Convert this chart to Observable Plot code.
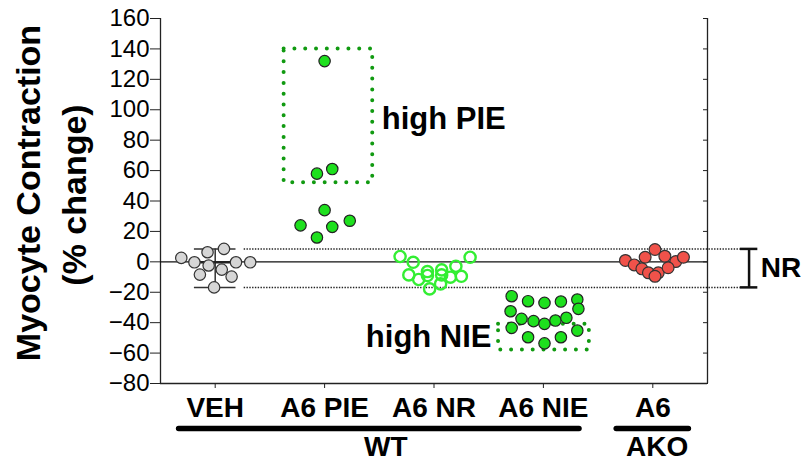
<!DOCTYPE html>
<html><head><meta charset="utf-8">
<script src="https://cdn.jsdelivr.net/npm/d3@7"></script>
<script src="https://cdn.jsdelivr.net/npm/@observablehq/plot@0.6"></script>
<style>body{margin:0;background:#fff;} #chart svg{font-family:"Liberation Sans",Arial,sans-serif;}</style>
</head><body><div id="chart"></div>
<script>
// ---- data ----
const categories = ["VEH", "A6 PIE", "A6 NR", "A6 NIE", "A6"];
const yTicks = [-80, -60, -40, -20, 0, 20, 40, 60, 80, 100, 120, 140, 160];

const vehValues = [2.6, -0.3, 6.3, 8.5, -2.4, -5.1, -0.3, -0.3, -8.4, -9.7, -16.8];
const vehJitter = [-0.31, -0.19, -0.07, 0.08, -0.06, 0.06, 0.19, 0.32, -0.14, 0.15, -0.01];

const pieValues = [132, 58, 61, 34, 24, 23, 27, 16];
const pieJitter = [0, -0.07, 0.07, 0, -0.22, 0.07, 0.23, -0.07];

const nrValues = [3.5, -0.3, 3.0, -2.9, -5.3, -6.4, -8.6, -11.6, -9.0, -8.6, -10.1, -9.5, -14.5, -17.8];
const nrJitter = [-0.31, -0.19, 0.33, 0.2, 0.07, -0.06, -0.23, -0.14, -0.06, 0.07, 0.15, 0.25, 0.06, -0.04];

const nieValues = [-22.6, -25.9, -27, -26.1, -24.8, -30.9, -32.5, -37.5, -39, -40.8, -38.6, -36.8, -43.4, -45.2, -49.6, -49.6, -53.6];
const nieJitter = [-0.29, -0.14, 0.01, 0.16, 0.31, 0.32, -0.30, -0.20, -0.09, 0.01, 0.11, 0.21, -0.29, 0.31, -0.14, 0.16, 0.01];

const akoValues = [0.9, -2.0, 3.0, 8.1, 3.7, 0.2, 3.0, -4.6, -7.2, -7.2, -3.9, -9.5];
const akoJitter = [-0.25, -0.17, -0.07, 0.02, 0.11, 0.21, 0.28, -0.10, -0.04, 0.05, 0.14, 0.02];

// highlighted regions (category index, category-unit extents, value range, label)
const boxCategory = [1, 3];
const boxLeft = [-0.37, -0.41];
const boxRight = [0.44, 0.42];
const boxTop = [140, -41];
const boxBottom = [52, -58];
const boxLabels = ["high PIE", "high NIE"];

const groupLabels = ["WT", "AKO"];
const groupFirst = [0, 4];
const groupLast = [3, 4];

// ---- build tables ----
function pts(ci, values, jitter) {
  return values.map((v, i) => ({x: ci + jitter[i], value: v}));
}
const veh = pts(0, vehValues, vehJitter);
const pie = pts(1, pieValues, pieJitter);
const nr = pts(2, nrValues, nrJitter);
const nie = pts(3, nieValues, nieJitter);
const ako = pts(4, akoValues, akoJitter);

const boxes = boxCategory.map((c, i) => ({
  x1: c + boxLeft[i], x2: c + boxRight[i], y1: boxBottom[i], y2: boxTop[i],
  label: boxLabels[i], mid: (boxTop[i] + boxBottom[i]) / 2, right: i === 0
}));
const groups = groupLabels.map((g, i) => ({label: g, first: groupFirst[i], last: groupLast[i]}));

const vehMax = d3.max(vehValues), vehMin = d3.min(vehValues), vehMed = d3.median(vehValues);
const nrMid = (vehMax + vehMin) / 2;
const xMax = categories.length - 0.5;

const fontFamily = "Liberation Sans, Arial, sans-serif";

const chart = Plot.plot({
  width: 809, height: 463,
  marginLeft: 160, marginRight: 102, marginTop: 18, marginBottom: 80,
  style: {fontFamily, background: "white", overflow: "visible", color: "black"},
  x: {type: "linear", domain: [-0.5, xMax], axis: null},
  y: {domain: [-80, 160], axis: null},
  marks: [
    // frame: left, right, bottom
    Plot.ruleX([-0.5, xMax], {stroke: "#222", strokeWidth: 1.3}),
    Plot.ruleY([-80], {stroke: "#222", strokeWidth: 1.3}),
    Plot.ruleY([0], {stroke: "#111", strokeWidth: 1.2}),
    Plot.axisY({ticks: yTicks, tickSize: 10, tickPadding: 1, fontSize: 24, label: null, anchor: "left", stroke: "#222"}),
    Plot.axisY({ticks: yTicks, tickSize: -5, tickFormat: () => "", label: null, anchor: "right", stroke: "#222"}),
    Plot.axisX({ticks: [0, 1, 2, 3, 4], tickFormat: i => categories[i], tickSize: 5, tickPadding: 9,
      fontSize: 28, fontWeight: "bold", label: null, stroke: "#222"}),
    // NR band (range of vehicle)
    Plot.ruleY([vehMax, vehMin], {x1: 0.265, x2: xMax + 0.3, stroke: "#222", strokeWidth: 1.5, strokeDasharray: "1.4,1.4"}),
    Plot.ruleX([xMax + 0.38], {y1: vehMin, y2: vehMax, stroke: "#111", strokeWidth: 2.5}),
    Plot.ruleY([vehMin, vehMax], {x1: xMax + 0.30, x2: xMax + 0.46, stroke: "#111", strokeWidth: 2.5}),
    Plot.text(["NR"], {x: xMax + 0.46, y: nrMid, text: d => d, textAnchor: "start", dx: 3, fontSize: 28, fontWeight: "bold"}),
    // vehicle range bar
    Plot.ruleX([0], {y1: vehMin, y2: vehMax, stroke: "#333", strokeWidth: 1.5}),
    Plot.ruleY([vehMin, vehMax], {x1: -0.19, x2: 0.19, stroke: "#333", strokeWidth: 1.5}),
    Plot.ruleY([vehMed], {x1: -0.19, x2: 0.19, stroke: "#222", strokeWidth: 2.5}),
    // highlight boxes
    Plot.rect(boxes, {x1: "x1", x2: "x2", y1: "y1", y2: "y2", fill: "none", stroke: "#119a11",
      strokeWidth: 4, strokeDasharray: "0,10.8", strokeLinecap: "round"}),
    Plot.text(boxes.filter(b => b.right), {x: "x2", y: "mid", text: "label", textAnchor: "start", dx: 9, dy: 3,
      fontSize: 31, fontWeight: "bold"}),
    Plot.text(boxes.filter(b => !b.right), {x: "x1", y: "mid", text: "label", textAnchor: "end", dx: -7,
      fontSize: 31, fontWeight: "bold"}),
    // points
    Plot.dot(veh, {x: "x", y: "value", r: 5.7, fill: "#d6d6d6", stroke: "#333", strokeWidth: 1.2}),
    Plot.dot(pie, {x: "x", y: "value", r: 5.7, fill: "#1ee01e", stroke: "#222", strokeWidth: 1.2}),
    Plot.dot(nr, {x: "x", y: "value", r: 5.6, fill: "none", stroke: "#33ee33", strokeWidth: 2.4}),
    Plot.dot(nie, {x: "x", y: "value", r: 5.7, fill: "#1ee01e", stroke: "#222", strokeWidth: 1.2}),
    Plot.dot(ako, {x: "x", y: "value", r: 5.9, fill: "#f0524a", stroke: "#333", strokeWidth: 1.2}),
    // group bars & labels
    Plot.ruleY(groups, {y: () => -80, x1: d => d.first - 0.33, x2: d => d.last + 0.33, dy: 45,
      stroke: "black", strokeWidth: 5.5, strokeLinecap: "round"}),
    Plot.text(groups, {x: d => (d.first + d.last) / 2 + (d.first === d.last ? 0.04 : 0.06), y: () => -80, text: "label", dy: 64,
      fontSize: 28, fontWeight: "bold"}),
    // y title
    Plot.text(["Myocyte Contraction"], {frameAnchor: "left", text: d => d, rotate: -90, textAnchor: "middle",
      dx: -131, dy: -8, fontSize: 34, fontWeight: "bold"}),
    Plot.text(["(% change)"], {frameAnchor: "left", text: d => d, rotate: -90, textAnchor: "middle",
      dx: -85, dy: -6, fontSize: 34, fontWeight: "bold"})
  ]
});
document.getElementById("chart").append(chart);
</script>
</body></html>
